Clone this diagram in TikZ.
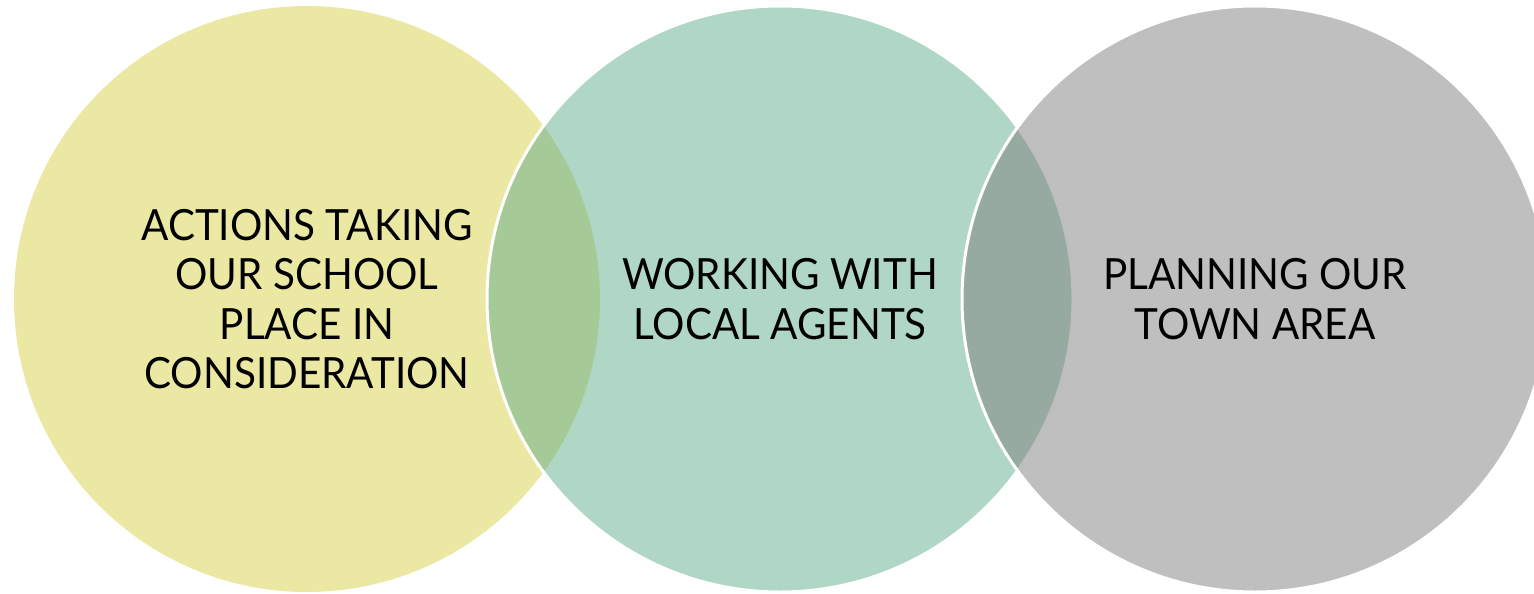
\documentclass[tikz,border=0pt]{standalone}
\usepackage{fontspec}
\setmainfont[FakeStretch=0.94]{Lato}
\definecolor{cyel}{RGB}{215,209,73}
\definecolor{cgrn}{RGB}{97,173,139}
\definecolor{cgry}{RGB}{127,127,127}
\tikzset{
  venn/.style={circle, minimum size=586pt, inner sep=0pt, fill opacity=0.5, text opacity=1,
    align=center, text=black, font=\fontsize{43}{49.5}\selectfont},
  vline/.style={draw=white, draw opacity=1, line width=3pt}
}
\begin{document}
\begin{tikzpicture}[x=1pt,y=-1pt]
\useasboundingbox (0,0) rectangle (1534,594);
\node[venn, fill=cyel] (c1) at (307,299) {ACTIONS TAKING\\OUR SCHOOL\\PLACE IN\\CONSIDERATION};
\node[venn, vline, fill=cgrn] (c2) at (780,299) {WORKING WITH\\LOCAL AGENTS};
\node[venn, vline, fill=cgry] (c3) at (1255,299) {PLANNING OUR\\TOWN AREA};
\end{tikzpicture}
\end{document}
